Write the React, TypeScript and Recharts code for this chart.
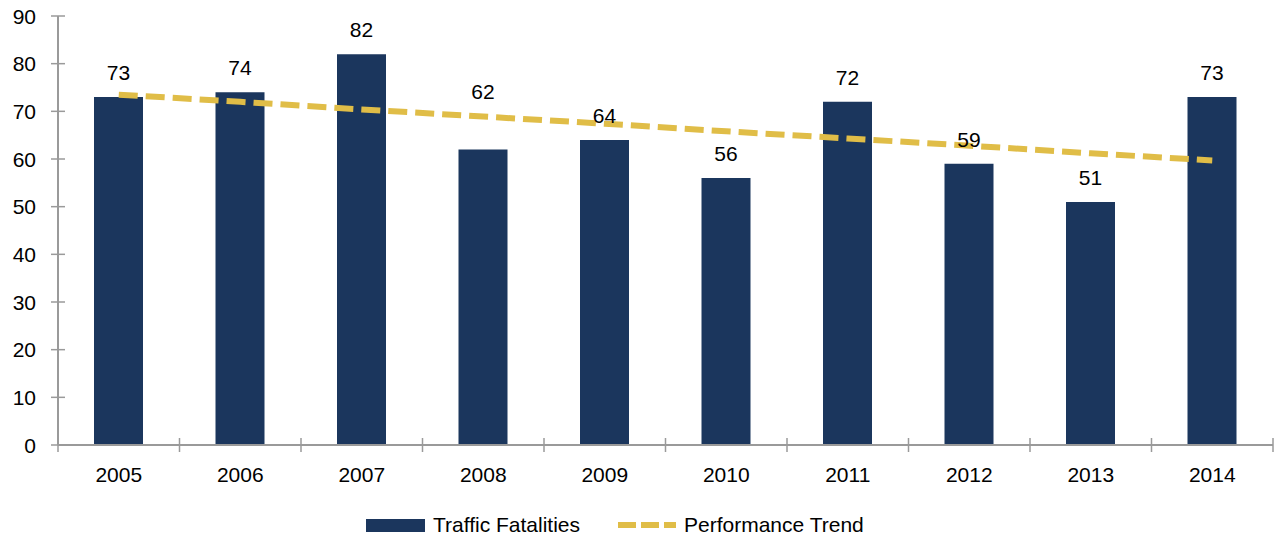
import React from 'react';
import { ComposedChart, Bar, Line, XAxis, YAxis, LabelList } from 'recharts';

const years = ['2005', '2006', '2007', '2008', '2009', '2010', '2011', '2012', '2013', '2014'];
const fatalities = [73, 74, 82, 62, 64, 56, 72, 59, 51, 73];
const trend = [73.5, 72.0, 70.4, 68.9, 67.4, 65.8, 64.3, 62.8, 61.2, 59.7];
const yTicks = [0, 10, 20, 30, 40, 50, 60, 70, 80, 90];
const seriesNames = ['Traffic Fatalities', 'Performance Trend'];

const data = years.map((y, i) => ({ year: y, value: fatalities[i], trend: trend[i] }));

const W = 1276;
const H = 538;
const X_H = 30;
const M = { top: 16, right: 3, left: 0, bottom: 93 - X_H };
const Y_W = 58;
const PLOT_BOTTOM = 445;
const BAND = (W - M.right - Y_W) / years.length;
const FONT = '"Liberation Sans", Arial, sans-serif';
const AXIS = '#9a9a9a';
const BAR = '#1b365d';
const GOLD = '#e0bd47';

const YTick = (props: any) => {
  const { y, payload } = props;
  return (
    <g>
      <line x1={Y_W - 7} x2={Y_W + 7} y1={y} y2={y} stroke={AXIS} strokeWidth={1.5} />
      <text x={36} y={y + 7.5} textAnchor="end" fontSize={21} fontFamily={FONT} fill="#000">
        {payload.value}
      </text>
    </g>
  );
};

const XTick = (props: any) => {
  const { x, payload, index } = props;
  const left = x - BAND / 2;
  const right = x + BAND / 2;
  return (
    <g>
      <line x1={left} x2={left} y1={PLOT_BOTTOM - 7} y2={PLOT_BOTTOM + 7} stroke={AXIS} strokeWidth={1.5} />
      {index === years.length - 1 && (
        <line x1={right} x2={right} y1={PLOT_BOTTOM - 7} y2={PLOT_BOTTOM + 7} stroke={AXIS} strokeWidth={1.5} />
      )}
      <text x={x} y={482} textAnchor="middle" fontSize={21} fontFamily={FONT} fill="#000">
        {payload.value}
      </text>
    </g>
  );
};

// The 2008 label is lifted above the trend line in the original.
const BarLabel = (props: any) => {
  const { x, y, width, value, index } = props;
  const lift = index === 3 ? 50 : 17;
  return (
    <text x={x + width / 2} y={y - lift} textAnchor="middle" fontSize={21} fontFamily={FONT} fill="#000">
      {value}
    </text>
  );
};

const LegendBox = () => (
  <div style={{ position: 'absolute', left: 0, top: 503, width: W, height: 30, fontFamily: FONT, fontSize: 21, color: '#000' }}>
    <div style={{ position: 'absolute', left: 366, top: 16, width: 59, height: 13, background: BAR }} />
    <div style={{ position: 'absolute', left: 433, top: 10, lineHeight: '24px', whiteSpace: 'nowrap' }}>{seriesNames[0]}</div>
    <svg style={{ position: 'absolute', left: 616, top: 12 }} width={62} height={20}>
      <line x1={2} x2={60} y1={10} y2={10} stroke={GOLD} strokeWidth={6} strokeDasharray="18 5" />
    </svg>
    <div style={{ position: 'absolute', left: 684, top: 10, lineHeight: '24px', whiteSpace: 'nowrap' }}>{seriesNames[1]}</div>
  </div>
);

export default function App() {
  return (
    <div style={{ position: 'absolute', left: 0, top: 0, width: W, height: H, background: '#fff' }}>
      <ComposedChart width={W} height={H} data={data} margin={M}>
        <XAxis
          dataKey="year"
          height={X_H}
          axisLine={{ stroke: AXIS, strokeWidth: 2 }}
          tickLine={false}
          tick={<XTick />}
          interval={0}
        />
        <YAxis
          domain={[0, 90]}
          ticks={yTicks}
          width={Y_W}
          axisLine={{ stroke: AXIS, strokeWidth: 2 }}
          tickLine={false}
          tick={<YTick />}
          interval={0}
        />
        <Bar dataKey="value" name={seriesNames[0]} fill={BAR} barSize={49} isAnimationActive={false}>
          <LabelList dataKey="value" content={<BarLabel />} />
        </Bar>
        <Line
          dataKey="trend"
          name={seriesNames[1]}
          stroke={GOLD}
          strokeWidth={6}
          strokeDasharray="19 8"
          dot={false}
          activeDot={false}
          type="linear"
          isAnimationActive={false}
        />
      </ComposedChart>
      <LegendBox />
    </div>
  );
}
